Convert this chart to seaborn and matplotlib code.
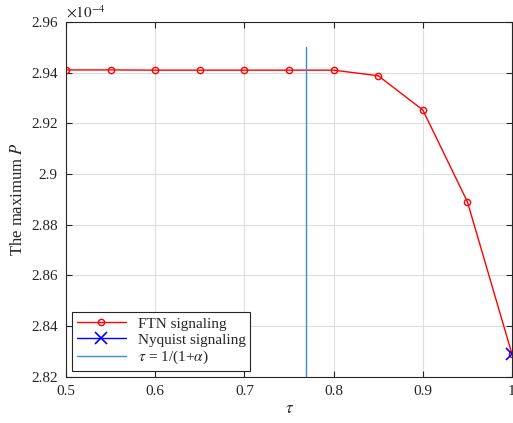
import numpy as np
import matplotlib
matplotlib.use("Agg")
import matplotlib.pyplot as plt
import seaborn as sns
import pandas as pd

# data (P in units of 1e-4)
tau = [0.5, 0.55, 0.6, 0.65, 0.7, 0.75, 0.8, 0.85, 0.9, 0.95, 1.0]
p_ftn = [2.9411, 2.9411, 2.9410, 2.9410, 2.9410, 2.9410, 2.9410, 2.9388, 2.9253, 2.8891, 2.8290]
tau_nyq = [1.0]
p_nyq = [2.8290]
tau_limit = 1 / (1 + 0.3)
vline_y = [2.82, 2.95]

sns.set_theme(style="whitegrid")
plt.rcParams['font.family'] = ['Liberation Serif', 'DejaVu Serif']
plt.rcParams['mathtext.fontset'] = 'stix'

fig = plt.figure(figsize=(5.13, 4.23), dpi=100)
ax = fig.add_axes([0.129, 0.109, 0.869, 0.839])

df = pd.DataFrame({'tau': tau, 'P': p_ftn})
sns.lineplot(data=df, x='tau', y='P', ax=ax, color='#ff0000', lw=1.0,
             marker='o', markersize=4.5, markerfacecolor='none',
             markeredgecolor='#ff0000', markeredgewidth=1.0, label='FTN signaling')
ax.plot(tau_nyq, p_nyq, color='#0000ff', lw=1.0, marker='x', linestyle='-',
        markersize=8, markeredgewidth=1.2, label='Nyquist signaling')
ax.plot([tau_limit, tau_limit], vline_y, color='#3a8fd0', lw=1.0,
        label=r'$\tau$ = 1/(1+$\alpha$)')

ax.set_xlim(0.5, 1.0)
ax.set_ylim(2.82, 2.96)
ax.set_xticks(np.arange(0.5, 1.01, 0.1))
ax.set_xticklabels(['0.5', '0.6', '0.7', '0.8', '0.9', '1'])
ax.set_yticks(np.arange(2.82, 2.961, 0.02))
ax.set_yticklabels(['2.82', '2.84', '2.86', '2.88', '2.9', '2.92', '2.94', '2.96'])
ax.grid(True, color='#dedede', lw=0.8)
ax.set_facecolor('white')
for s in ax.spines.values():
    s.set_color('#262626')
    s.set_linewidth(0.8)
ax.tick_params(direction='in', length=4, width=0.8, colors='#262626',
               labelsize=11, top=True, right=True, left=True, bottom=True,
               pad=6)
for lab in ax.get_xticklabels() + ax.get_yticklabels():
    lab.set_color('#262626')

ax.set_xlabel(r'$\tau$', fontsize=12, color='#262626', labelpad=2)
ax.set_ylabel(r'The maximum $P$', fontsize=12, color='#262626', labelpad=4)
ax.text(0.0, 1.005, r'$\times10^{-4}$', transform=ax.transAxes, fontsize=11,
        color='#262626', ha='left', va='bottom')

leg = ax.legend(loc='lower left', fontsize=11, frameon=True, fancybox=False,
                edgecolor='#262626', framealpha=1, borderpad=0.3,
                labelspacing=0.15, handlelength=3.2, borderaxespad=0.4)
leg.get_frame().set_linewidth(0.8)

fig.savefig('out.png', dpi=100)
